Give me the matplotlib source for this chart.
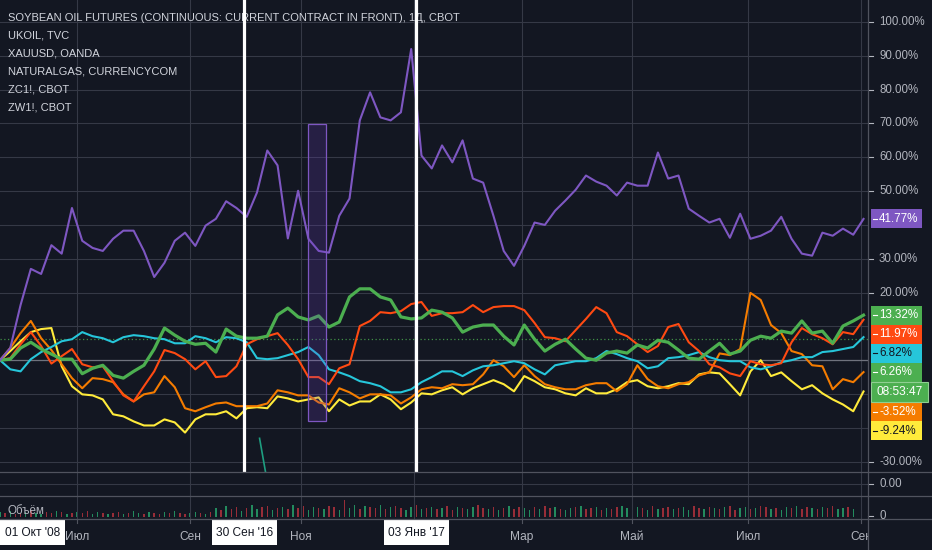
import numpy as np
import pandas as pd
import matplotlib
matplotlib.use('Agg')
import matplotlib.pyplot as plt
from matplotlib.patches import Rectangle

# ---------------- data (percent change since start) ----------------
START = '2016-05-20'
N_BARS = 338
STEP = 4  # one sample every 4 trading days

natgas = [0, 3.6, 16.3, 27.0, 25.5, 34.0, 31.5, 45.0, 35.3, 33.2,
          32.3, 35.9, 38.3, 38.3, 32.3, 24.6, 28.8, 35.3, 37.7, 33.8,
          39.8, 41.8, 47.0, 45.0, 42.4, 49.6, 62.0, 57.6, 36.0, 50.1,
          35.9, 32.3, 31.8, 42.7, 47.8, 70.9, 79.2, 71.8, 70.9, 73.3,
          92.0, 60.5, 56.7, 63.5, 58.5, 65.0, 53.7, 52.5, 42.7, 32.3,
          27.9, 33.8, 40.7, 40.0, 44.2, 47.2, 50.4, 54.6, 52.8, 51.6,
          48.7, 52.5, 51.6, 51.6, 61.4, 53.7, 54.6, 44.8, 42.7, 40.7,
          41.8, 36.2, 43.3, 35.9, 36.8, 38.3, 42.4, 35.9, 31.5, 30.9,
          37.7, 36.8, 38.9, 37.1, 41.77]

gold = [0, -2.7, -3.3, 0.3, 2.4, 3.9, 5.6, 6.2, 8.3, 7.1,
        6.5, 5.3, 6.8, 7.4, 7.1, 6.5, 6.2, 5.0, 5.0, 7.1,
        6.5, 5.3, 6.8, 6.5, 5.3, 0.6, 0.3, 0.6, 1.5, 2.4,
        3.9, 1.5, -2.7, -3.6, -4.7, -6.2, -6.8, -7.7, -9.5, -9.5,
        -8.6, -6.5, -5.0, -3.3, -3.3, -4.7, -3.0, -1.8, -1.5, -0.9,
        -0.3, -0.9, -2.7, -4.2, -1.5, -0.9, -0.3, -0.3, 0.6, 2.7,
        1.8, 0.6, -0.3, -2.4, -1.8, 0.6, 0.9, 1.5, 2.4, 0.9,
        0.0, -0.3, -0.3, -2.1, -2.7, -1.8, -0.6, 0.0, 0.9, 0.9,
        2.4, 2.7, 3.3, 3.9, 6.82]

soy_green = [0, 0.3, 3.6, 5.3, 3.3, 1.8, 0.3, 0.3, -4.0, -2.4,
             -1.5, -4.5, -5.3, -3.3, -1.5, 3.3, 9.5, 7.4, 5.6, 4.7,
             5.0, 2.4, 9.2, 7.1, 6.5, 6.5, 7.1, 13.4, 15.4, 12.8,
             11.9, 13.1, 9.8, 11.3, 18.7, 21.1, 21.1, 18.7, 17.8, 12.8,
             12.2, 12.5, 14.8, 14.2, 12.5, 8.3, 9.8, 10.4, 10.4, 7.1,
             4.5, 10.4, 6.2, 2.7, 4.7, 6.2, 3.3, 0.6, 0.0, 2.1,
             2.7, 2.1, 4.5, 3.6, 5.9, 5.3, 3.0, 0.6, 0.3, 2.7,
             5.0, 1.8, 2.7, 5.9, 7.1, 6.5, 8.6, 8.0, 11.6, 8.0,
             8.6, 5.0, 10.1, 11.6, 13.32]

brent = [0, 0.6, 4.7, 8.3, 4.2, -1.0, 1.2, 3.3, -1.2, -2.1,
         -1.8, -6.2, -10.4, -12.2, -7.7, -3.3, 3.0, 2.1, 0.3, -2.7,
         -0.3, -5.0, -4.7, -1.8, 4.7, 6.2, 7.1, 8.0, 4.5, 0.3,
         -5.0, -5.0, -7.1, -2.4, -1.2, 10.1, 11.6, 14.2, 13.9, 14.5,
         16.6, 17.2, 13.1, 13.9, 13.9, 14.2, 16.3, 14.2, 15.7, 16.0,
         16.0, 14.8, 11.0, 6.8, 6.5, 5.6, 8.9, 12.2, 15.7, 13.9,
         8.3, 7.1, 4.7, 2.4, 4.2, 9.8, 10.7, 5.3, 2.7, -1.2,
         -2.1, -3.9, -4.7, -0.3, -1.2, -1.5, -0.9, 5.3, 9.5, 7.7,
         6.5, 4.7, 8.3, 7.7, 11.97]

wheat = [0, 3.6, 8.0, 11.6, 6.5, 3.0, -1.2, -5.3, -8.3, -5.3,
         -5.6, -6.5, -10.1, -12.2, -10.1, -9.5, -4.7, -8.0, -14.2, -15.1,
         -13.9, -12.8, -12.5, -13.6, -13.6, -13.6, -12.8, -8.9, -9.5, -10.4,
         -10.4, -12.5, -13.1, -8.3, -9.5, -11.3, -10.1, -10.1, -10.4, -12.8,
         -11.0, -8.6, -8.0, -8.3, -7.1, -7.4, -7.1, -4.2, 0.0, -1.8,
         -5.0, -1.5, -4.7, -7.1, -8.0, -8.6, -8.6, -7.4, -6.8, -6.8,
         -9.2, -7.1, -1.5, -5.6, -7.7, -8.3, -7.1, -6.5, -4.5, -3.6,
         2.0, 1.5, 3.3, 19.9, 17.8, 10.4, 8.0, 2.7, 1.8, -1.5,
         -1.8, -8.6, -5.6, -6.5, -3.52]

corn = [0, 2.7, 5.6, 8.3, 9.2, 9.5, -1.8, -7.7, -10.1, -10.4,
        -11.6, -16.0, -16.6, -18.1, -19.3, -19.3, -17.5, -18.4, -21.4, -17.5,
        -16.0, -16.0, -15.1, -17.2, -14.2, -13.9, -14.2, -10.7, -11.3, -12.2,
        -11.6, -11.0, -15.1, -11.6, -13.4, -12.2, -12.2, -10.1, -11.6, -14.5,
        -12.5, -9.8, -10.1, -8.9, -8.0, -10.1, -8.3, -7.1, -5.9, -7.1,
        -9.2, -4.7, -6.2, -8.0, -8.6, -9.8, -10.4, -8.3, -9.8, -9.8,
        -8.6, -6.5, -5.9, -7.7, -8.3, -7.7, -6.8, -7.1, -4.2, -3.6,
        -3.9, -7.1, -10.4, -3.3, 0.0, -4.7, -3.6, -6.2, -8.6, -7.4,
        -9.8, -11.6, -13.1, -15.1, -9.24]

main_dates = ['2016-10-10', '2016-10-13']
main_vals = [-23.1, -36.0]
main_last = 6.26

# volume, one bar every 2 trading days (thousands)
volume = [5, 4, 6, 3, 4, 5, 7, 4, 3, 5, 4, 6, 5, 3, 4, 5, 4, 6, 3, 5, 4,
          3, 4, 5, 3, 4, 6, 4, 3, 5, 4, 3, 5, 4, 6, 4, 3, 4, 5, 4, 3, 5,
          9, 7, 11, 8, 10, 6, 9, 12, 8, 10, 11, 7, 9, 10, 8, 12, 9, 11, 7, 10,
          9, 8, 11, 10, 7, 17, 9, 12, 8, 11, 10, 9, 12, 8, 10, 11, 9, 7, 10, 12, 8, 9,
          10, 8, 9, 11, 7, 10, 9, 8, 10, 12, 9, 8, 10, 7, 9, 11, 8, 10, 9, 7, 10,
          8, 11, 9, 10, 8, 7, 9, 10, 11, 8, 9, 10, 7, 9, 8, 10, 11, 9, 8, 10, 9,
          7, 11, 8, 9, 10, 8, 9, 10, 7, 11, 9, 8, 10, 9, 8, 10, 11, 7, 9, 10, 8,
          9, 11, 10, 8, 9, 7, 10, 9, 11, 8, 10, 9, 8, 10, 9, 11, 8, 9, 10, 8]
vol_dir = "grgrrgrggrrgrgrgrrggrgrrgrggrgrrgrgrrggrgr"

legend_lines = ["SOYBEAN OIL FUTURES (CONTINUOUS: CURRENT CONTRACT IN FRONT), 1Д, CBOT",
                "UKOIL, TVC", "XAUUSD, OANDA", "NATURALGAS, CURRENCYCOM",
                "ZC1!, CBOT", "ZW1!, CBOT"]
month_names = {1: 'Янв', 3: 'Мар', 5: 'Май', 7: 'Июл', 9: 'Сен', 11: 'Ноя'}
vline_dates = ['2016-09-30', '2017-01-03']
rect_dates = ['2016-11-04', '2016-11-15']
rect_vals = [-18.1, 69.7]
countdown = "08:53:47"

# ---------------- style ----------------
W, H = 932, 550
BG = '#131722'
GRID = '#353946'
SEP = '#50535e'
TXT = '#b2b5be'
C_NG = '#7e57c2'
C_GREEN = '#4caf50'
C_BRENT = '#ff4a12'
C_GOLD = '#26c6da'
C_WHEAT = '#f57c00'
C_CORN = '#ffeb3b'
C_MAIN = '#1e9e80'
plt.rcParams['font.family'] = ['Liberation Sans', 'DejaVu Sans']

PXB = 2.57  # pixels per trading day
XMAX = 868 / PXB
YLO, YHI = -33.06, 106.5
PX_PER_PCT = 472 / (YHI - YLO)

dates = pd.bdate_range(START, periods=N_BARS)


def bar_of(d):
    return int(dates.searchsorted(pd.Timestamp(d)))


x = np.arange(len(natgas)) * STEP


def fx(px):
    return px / W


def fy(py):
    return 1 - py / H


fig = plt.figure(figsize=(W / 100, H / 100), dpi=100, facecolor=BG)

# month starts
month_bars, month_lbls = [], []
for m in pd.date_range('2016-07-01', '2017-09-01', freq='2MS'):
    month_bars.append(bar_of(m))
    month_lbls.append(month_names[m.month])

# ---------------- main pane ----------------
ax = fig.add_axes([0, fy(472), fx(868), 472 / H])
ax.set_facecolor(BG)
ax.set_xlim(0, XMAX)
ax.set_ylim(YLO, YHI)
ax.axis('off')
for v in range(-30, 101, 10):
    ax.axhline(v, color=GRID, lw=0.8, zorder=0)
for b in month_bars:
    ax.axvline(b, color=GRID, lw=0.8, zorder=0)
ax.axhline(0, color='#6f727d', lw=0.9, zorder=0.5)
ax.axhline(main_last, color=C_GREEN, lw=0.9, ls=(0, (1, 2)), alpha=0.8, zorder=0.6)

for i, t in enumerate(legend_lines):
    ax.text(8 / 868, 1 - (18 + 18 * i) / 472, t, transform=ax.transAxes,
            color='#d1d4dc', fontsize=8.0, va='center', ha='left', zorder=1)

lw = 1.5
ax.plot(x, corn, color=C_CORN, lw=lw, zorder=2, solid_joinstyle='round')
ax.plot(x, wheat, color=C_WHEAT, lw=lw, zorder=2.1, solid_joinstyle='round')
ax.plot(x, gold, color=C_GOLD, lw=lw, zorder=2.2, solid_joinstyle='round')
ax.plot(x, brent, color=C_BRENT, lw=lw, zorder=2.3, solid_joinstyle='round')
ax.plot(x, soy_green, color=C_GREEN, lw=2.3, zorder=2.4, solid_joinstyle='round')
ax.plot(x, natgas, color=C_NG, lw=lw, zorder=2.5, solid_joinstyle='round')
ax.plot([bar_of(d) for d in main_dates], main_vals, color=C_MAIN, lw=1.2, zorder=2.6)

r0, r1 = bar_of(rect_dates[0]), bar_of(rect_dates[1])
ax.add_patch(Rectangle((r0, rect_vals[0]), r1 - r0, rect_vals[1] - rect_vals[0],
                       facecolor='#6a3cc0', alpha=0.22, edgecolor='none', zorder=3))
ax.add_patch(Rectangle((r0, rect_vals[0]), r1 - r0, rect_vals[1] - rect_vals[0],
                       facecolor='none', edgecolor=C_NG, lw=0.9, zorder=3.1))
for d in vline_dates:
    ax.axvline(bar_of(d), color='white', lw=2.3, zorder=6)

# ---------------- right price scale ----------------
axr = fig.add_axes([fx(868), fy(472), fx(64), 472 / H])
axr.set_facecolor(BG)
axr.set_xlim(0, 64)
axr.set_ylim(YLO, YHI)
axr.axis('off')

labels = [(natgas[-1], C_NG, 'white'), (soy_green[-1], C_GREEN, 'white'),
          (brent[-1], C_BRENT, 'white'), (gold[-1], C_GOLD, BG),
          (main_last, C_GREEN, 'white'), (wheat[-1], C_WHEAT, 'white'),
          (corn[-1], C_CORN, BG)]
labels.sort(key=lambda t: -t[0])
hh = 9.5 / PX_PER_PCT
centers = []
prev = None
for val, fc, tc in labels:
    c = val
    if prev is not None:
        c = min(c, prev - 2 * hh)
    centers.append(c)
    prev = c
    if val == main_last:
        prev = c - 2.15 * hh  # countdown box below the main label
        cd_center = c - 2.12 * hh

for (val, fc, tc), c in zip(labels, centers):
    axr.add_patch(Rectangle((2.7, c - hh), 51.3, 2 * hh, facecolor=fc,
                            edgecolor='none', zorder=3))
    axr.plot([5, 8.5], [c, c], color=tc, lw=0.8, zorder=4)
    axr.text(11, c, f"{val:.2f}%", color=tc, fontsize=8.4, va='center',
             ha='left', zorder=5)
axr.add_patch(Rectangle((3, cd_center - hh * 1.05), 57, 2.1 * hh, facecolor=C_GREEN,
                        edgecolor='#8fcf92', lw=0.8, zorder=3))
axr.text(31.5, cd_center, countdown, color='white', fontsize=8.6, va='center',
         ha='center', zorder=5)

all_c = centers + [cd_center]
for v in range(-30, 101, 10):
    if min(abs(v - c) for c in all_c) * PX_PER_PCT < 15:
        continue
    axr.plot([0, 4.5], [v, v], color=TXT, lw=0.8)
    axr.text(11, v, f"{v:.2f}%", color=TXT, fontsize=8.3, va='center', ha='left')

# ---------------- indicator pane ----------------
axi = fig.add_axes([0, fy(496), fx(868), 24 / H])
axi.set_facecolor(BG)
axi.set_xlim(0, XMAX)
axi.set_ylim(-1, 1)
axi.axis('off')
axi.axhline(0, color=GRID, lw=0.8)
for b in month_bars:
    axi.axvline(b, color=GRID, lw=0.8)
fig.text(fx(879), fy(484), "0.00", color=TXT, fontsize=8.3, va='center', ha='left')
fig.add_artist(plt.Line2D([fx(868), fx(872.5)], [fy(484), fy(484)], color=TXT, lw=0.8))

# ---------------- volume pane ----------------
axv = fig.add_axes([0, fy(519), fx(868), 23 / H])
axv.set_facecolor(BG)
axv.set_xlim(0, XMAX)
axv.set_ylim(-2, 21)
axv.axis('off')
for b in month_bars:
    axv.axvline(b, color=GRID, lw=0.8)
vx = np.arange(len(volume)) * 2
vcol = ['#26a069' if vol_dir[i % len(vol_dir)] == 'g' else '#b0313d' for i in range(len(volume))]
axv.bar(vx, volume, width=0.55, color=vcol, alpha=0.85, linewidth=0)
axv.text(8 / 868, 0.33, "Объём", transform=axv.transAxes, color=TXT,
         fontsize=8.4, va='center', ha='left')
fig.text(fx(879), fy(516), "0", color=TXT, fontsize=8.3, va='center', ha='left')
fig.add_artist(plt.Line2D([fx(868), fx(872.5)], [fy(516), fy(516)], color=TXT, lw=0.8))

# ---------------- time axis ----------------
axt = fig.add_axes([0, 0, fx(868), 31 / H])
axt.set_facecolor(BG)
axt.set_xlim(0, XMAX)
axt.set_ylim(0, 31)
axt.axis('off')

box_w = 65 / PXB
date_boxes = [(box_w / 2, "01 Окт '08"),
              (bar_of(vline_dates[0]), "30 Сен '16"),
              (bar_of(vline_dates[1]), "03 Янв '17")]
for b, lb in zip(month_bars, month_lbls):
    axt.plot([b, b], [31, 27], color=SEP, lw=0.8)
    hidden = any(abs(b - cx) < box_w / 2 + 4 for cx, _ in date_boxes)
    if not hidden:
        axt.text(b, 13, lb, color=TXT, fontsize=8.6, ha='center', va='center', clip_on=True)

for cx, t in date_boxes:
    axt.add_patch(Rectangle((cx - box_w / 2, 5), box_w, 26, facecolor='white',
                            edgecolor='none', zorder=4))
    axt.text(cx, 17.5, t, color=BG, fontsize=8.6, ha='center', va='center', zorder=5)

# separators and border
for py in (472, 496, 519):
    fig.add_artist(plt.Line2D([0, 1], [fy(py), fy(py)], color=SEP, lw=0.9))
fig.add_artist(plt.Line2D([fx(868), fx(868)], [0, 1], color=SEP, lw=0.9))

fig.savefig('out.png', dpi=100, facecolor=BG)
